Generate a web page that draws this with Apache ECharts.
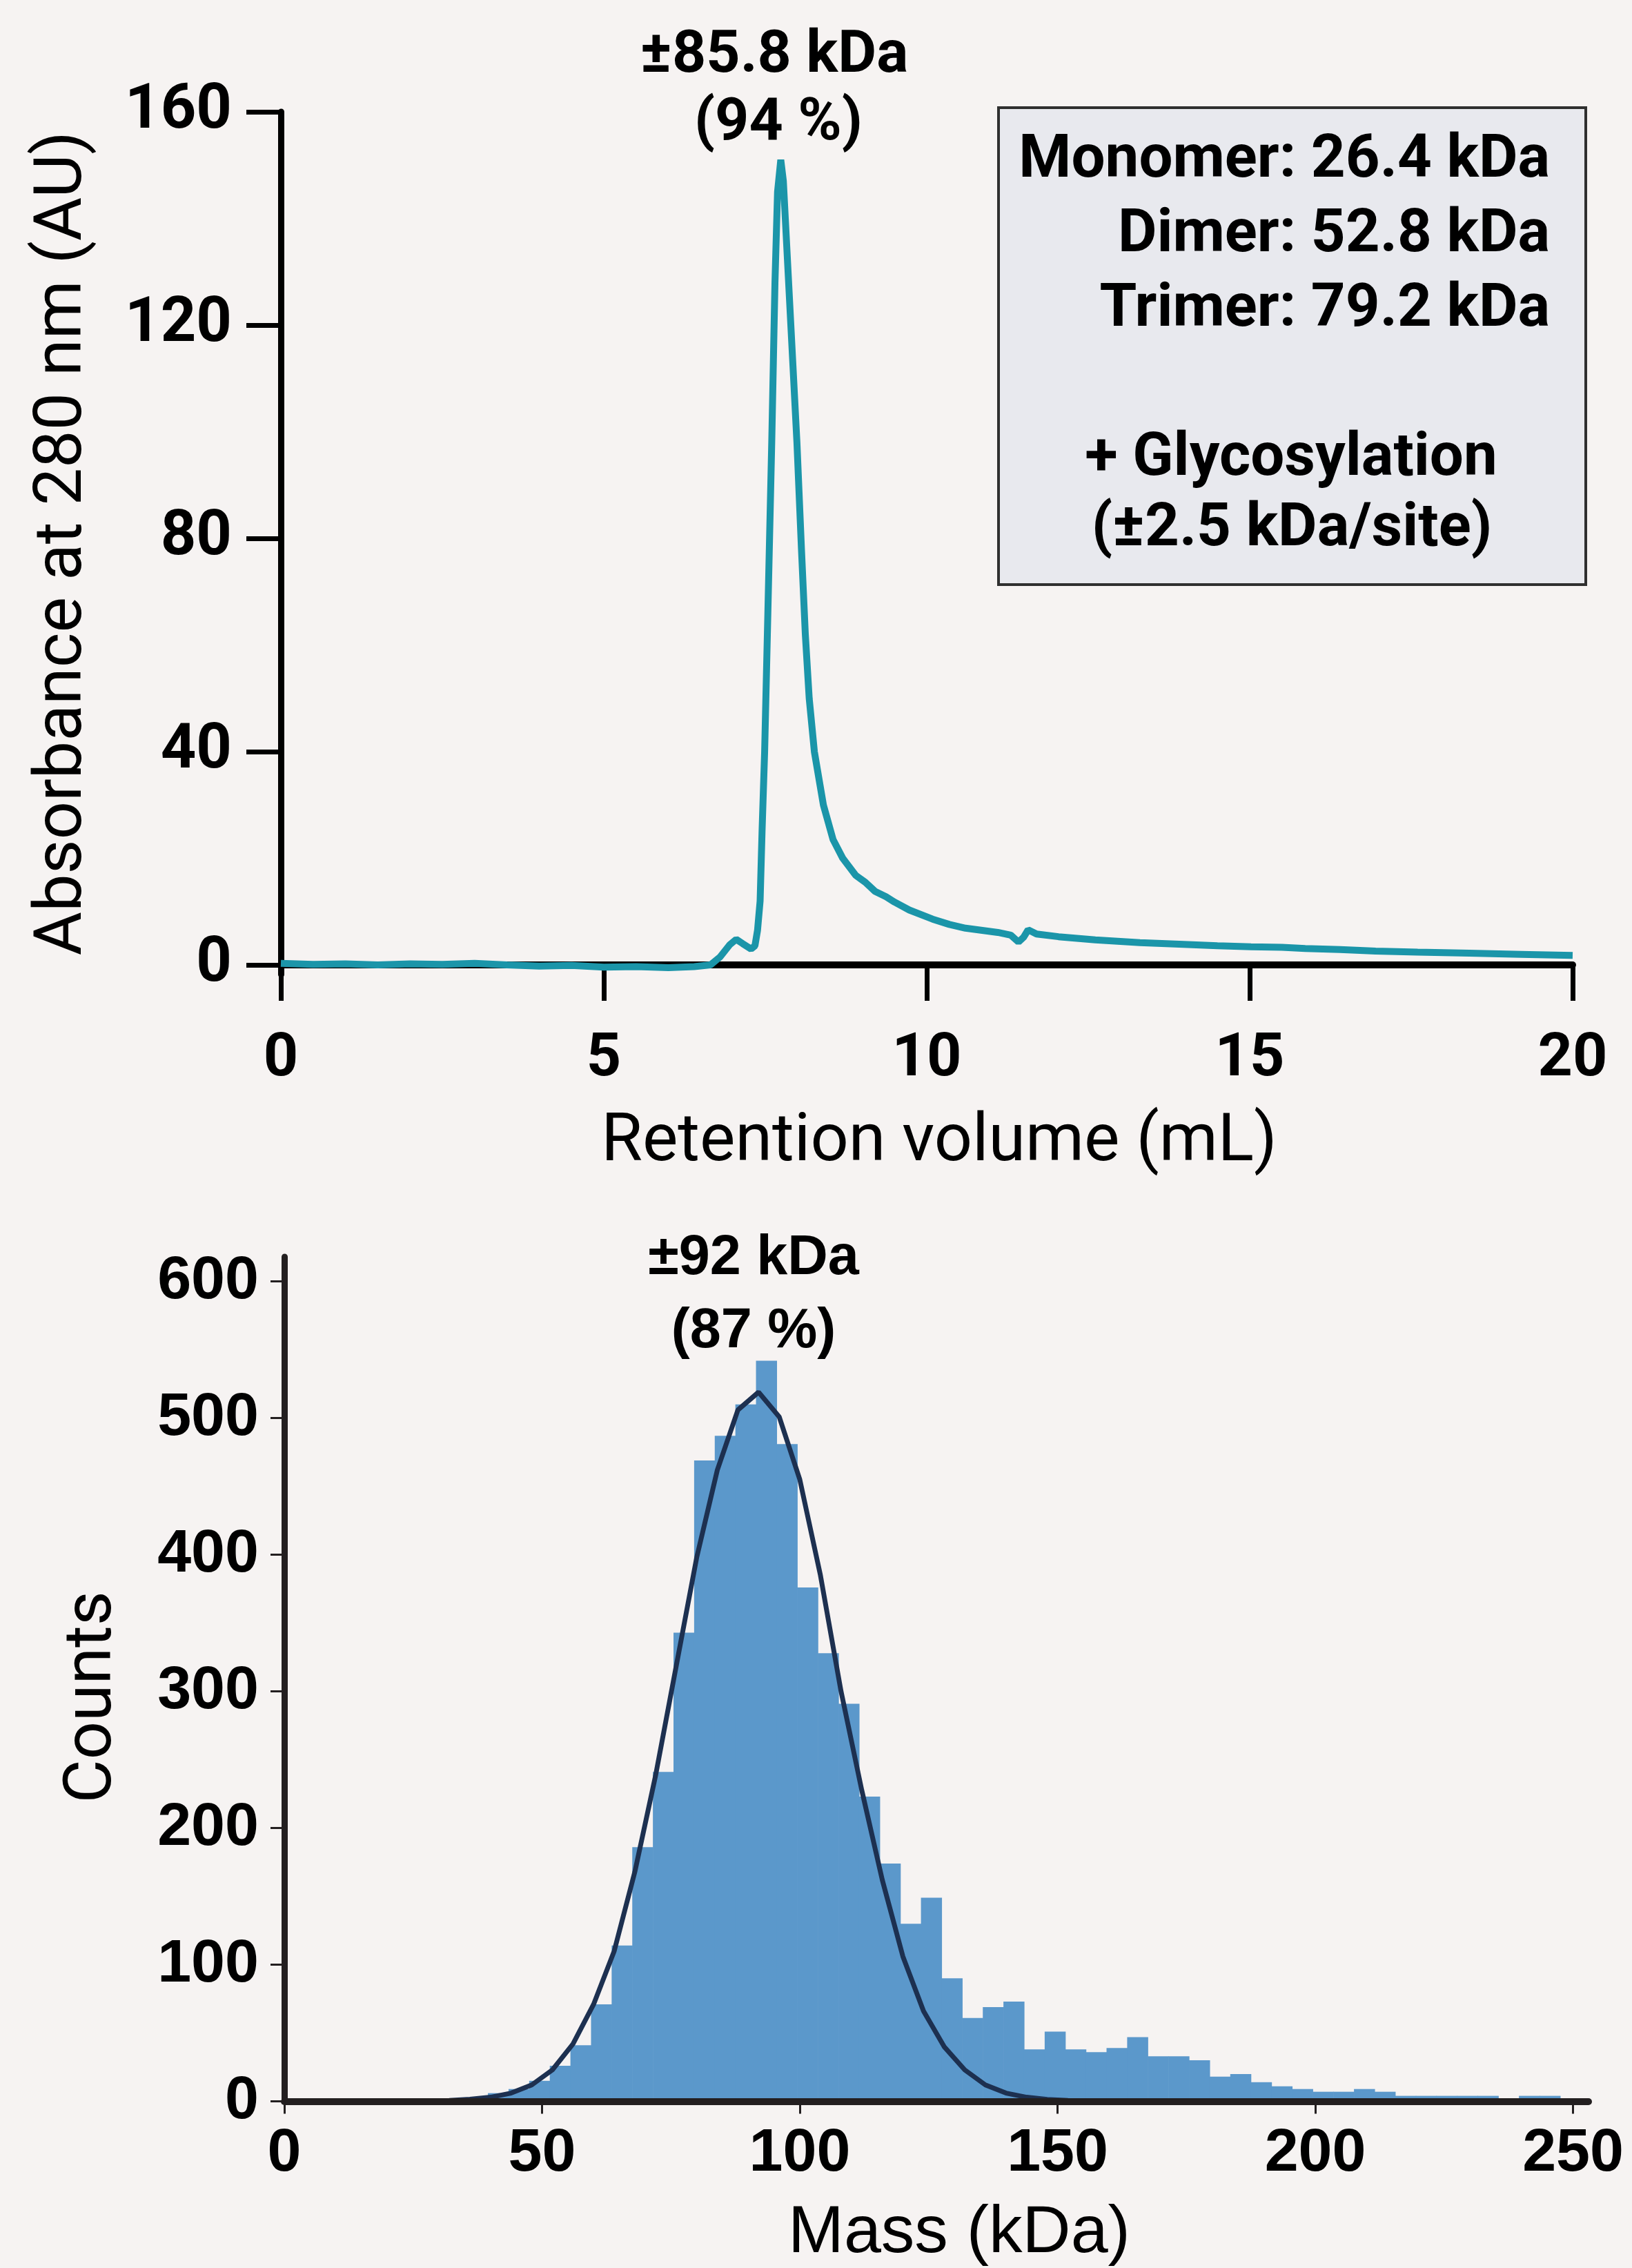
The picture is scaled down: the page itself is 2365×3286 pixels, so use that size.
<!DOCTYPE html>
<html>
<head>
<meta charset="utf-8">
<script src="https://cdn.jsdelivr.net/npm/echarts/dist/echarts.min.js"></script>
<style>
  html, body { margin: 0; padding: 0; background: #f6f3f2; }
  #container { width: 2365px; height: 3286px; }
</style>
</head>
<body>
<div id="container"></div>
<script>
// SEC trace (retention volume in mL, absorbance in AU)
let secVolume = [0, 0.5, 1.0, 1.5, 2.0, 2.5, 3.0, 3.5, 4.0, 4.5, 5.0, 5.5, 6.0, 6.4, 6.65, 6.8, 6.95, 7.05, 7.15, 7.28, 7.34, 7.38, 7.42, 7.45, 7.49, 7.54, 7.60, 7.65, 7.69, 7.74, 7.78, 7.81, 7.90, 7.99, 8.06, 8.12, 8.18, 8.26, 8.40, 8.55, 8.70, 8.90, 9.05, 9.20, 9.37, 9.50, 9.73, 10.09, 10.35, 10.6, 11.1, 11.3, 11.42, 11.5, 11.57, 11.7, 12.04, 12.61, 13.3, 13.91, 14.5, 15.02, 15.5, 15.86, 16.4, 16.95, 17.6, 18.4, 19.2, 20.0];
let secAbs = [0.3, 0.1, 0.2, 0.0, 0.2, 0.1, 0.3, 0.0, -0.2, -0.1, -0.4, -0.3, -0.5, -0.3, 0.0, 1.5, 3.8, 4.8, 4.0, 3.0, 3.6, 6.5, 12, 25, 40, 66, 98, 128, 145, 151, 147, 140, 119, 98, 78, 62, 50, 40, 30, 23.5, 20, 16.8, 15.5, 13.8, 12.8, 11.8, 10.3, 8.6, 7.6, 6.9, 6.1, 5.6, 4.3, 5.2, 6.6, 5.8, 5.3, 4.7, 4.2, 3.9, 3.6, 3.4, 3.3, 3.1, 2.9, 2.6, 2.4, 2.2, 2.0, 1.8];
let secYTicks = [0, 40, 80, 120, 160];

// mass photometry histogram (4 kDa bins)
let binStart = [35.5, 39.5, 43.5, 47.5, 51.5, 55.5, 59.5, 63.5, 67.5, 71.5, 75.5, 79.5, 83.5, 87.5, 91.5, 95.5, 99.5, 103.5, 107.5, 111.5, 115.5, 119.5, 123.5, 127.5, 131.5, 135.5, 139.5, 143.5, 147.5, 151.5, 155.5, 159.5, 163.5, 167.5, 171.5, 175.5, 179.5, 183.5, 187.5, 191.5, 195.5, 199.5, 203.5, 207.5, 211.5, 215.5, 219.5, 223.5, 227.5, 231.5, 235.5, 239.5, 243.5, 247.5];
let binCounts = [1, 6, 9, 15, 26, 41, 71, 114, 186, 241, 343, 469, 487, 510, 542, 481, 376, 328, 291, 223, 174, 130, 149, 90, 61, 69, 73, 38, 51, 38, 36, 39, 47, 33, 33, 30, 18, 20, 14, 11, 9, 7, 7, 9, 7, 4, 4, 4, 4, 4, 2, 4, 4, 1];
let binWidth = 4;

// gaussian fit curve
let fitMass = [0, 28, 32, 36, 40, 44, 48, 52, 56, 60, 64, 68, 72, 76, 80, 84, 88, 92, 96, 100, 104, 108, 112, 116, 120, 124, 128, 132, 136, 140, 144, 148, 152, 160, 250];
let fitCounts = [0, 0.2, 0.6, 1.5, 3, 6, 12, 23, 42, 71, 110, 168, 238, 318, 398, 462, 506, 519, 501, 455, 385, 300, 228, 162, 106, 66, 40, 23, 12, 6, 3, 1.4, 0.6, 0.1, 0];
let massTicks = [0, 50, 100, 150, 200, 250];
let countTicks = [0, 100, 200, 300, 400, 500, 600];

let dom = document.getElementById("container");
let myChart = echarts.init(dom, null, { renderer: 'canvas' });

const ROBOTO = 'Roboto, "Noto Sans", sans-serif';
const ARIAL = '"Liberation Sans", Arial, sans-serif';
const teal = '#1b95a9';
const barColor = '#5b98cb';
const fitColor = '#1d3050';

let secData = secVolume.map(function (v, i) { return [v, secAbs[i]]; });
let histData = binStart.map(function (s, i) { return [s, s + binWidth, binCounts[i]]; });
let fitData = fitMass.map(function (m, i) { return [m, fitCounts[i]]; });

// one rectangle per histogram bin
function renderBin(params, api) {
    let p0 = api.coord([api.value(0), api.value(2)]);
    let p1 = api.coord([api.value(1), 0]);
    return {
        type: 'rect',
        shape: { x: p0[0], y: p0[1], width: p1[0] - p0[0] + 0.6, height: p1[1] - p0[1] },
        style: { fill: barColor }
    };
}

function txt(text, x, y, size, weight, family, align) {
    return {
        type: 'text', x: x, y: y, z: 20,
        style: {
            text: text, fill: '#000', fontSize: size, fontWeight: weight,
            fontFamily: family, align: align || 'center', verticalAlign: 'middle'
        }
    };
}

let option = {
    backgroundColor: '#f6f3f2',
    animation: false,
    grid: [
        { left: 407, top: 162, width: 1872, height: 1250 },
        { left: 412, top: 1821, width: 1890, height: 1229 }
    ],
    xAxis: [{
        gridIndex: 0, type: 'value', min: 0, max: 20, interval: 5,
        name: 'Retention volume (mL)', nameLocation: 'middle', nameGap: 245,
        nameTextStyle: { fontSize: 97, fontFamily: ROBOTO, color: '#000', verticalAlign: 'middle', padding: [0, 0, 0, 36] },
        axisLine: { lineStyle: { color: '#000', width: 10 } },
        axisTick: { length: 52, lineStyle: { color: '#000', width: 7 } },
        axisLabel: { margin: 80, fontSize: 88, fontWeight: 'bold', fontFamily: ROBOTO, color: '#000' },
        splitLine: { show: false }
    }, {
        gridIndex: 1, type: 'value', min: 0, max: 253, z: 5,
        name: 'Mass (kDa)', nameLocation: 'middle', nameGap: 192,
        nameTextStyle: { fontSize: 97, fontFamily: ARIAL, color: '#000', verticalAlign: 'middle', padding: [0, 0, 0, 66] },
        axisLine: { lineStyle: { color: '#231f20', width: 10 } },
        axisTick: { length: 18, customValues: massTicks, lineStyle: { color: '#231f20', width: 3 } },
        axisLabel: { margin: 32, customValues: massTicks, fontSize: 88, fontWeight: 'bold', fontFamily: ARIAL, color: '#000' },
        splitLine: { show: false }
    }],
    yAxis: [{
        gridIndex: 0, type: 'value', min: -1.8, max: 160,
        name: 'Absorbance at 280 nm (AU)', nameLocation: 'middle', nameGap: 314,
        nameTextStyle: { fontSize: 97, fontFamily: ROBOTO, color: '#000', verticalAlign: 'middle' },
        axisLine: { show: true, lineStyle: { color: '#000', width: 9 } },
        axisTick: { show: true, length: 50, customValues: secYTicks, lineStyle: { color: '#000', width: 7 } },
        axisLabel: { margin: 71, customValues: secYTicks, fontSize: 90, fontWeight: 'bold', fontFamily: ROBOTO, color: '#000' },
        splitLine: { show: false }
    }, {
        gridIndex: 1, type: 'value', min: 0, max: 618,
        name: 'Counts', nameLocation: 'middle', nameGap: 276,
        nameTextStyle: { fontSize: 97, fontFamily: ROBOTO, color: '#000', verticalAlign: 'middle', padding: [0, 52, 0, 0] },
        axisLine: { show: true, lineStyle: { color: '#231f20', width: 9 } },
        axisTick: { show: true, length: 20, customValues: countTicks, lineStyle: { color: '#231f20', width: 3 } },
        axisLabel: { margin: 37, customValues: countTicks, fontSize: 88, fontWeight: 'bold', fontFamily: ARIAL, color: '#000' },
        splitLine: { show: false }
    }],
    series: [{
        name: 'SEC',
        type: 'line',
        xAxisIndex: 0, yAxisIndex: 0,
        data: secData,
        showSymbol: false,
        smooth: false,
        lineStyle: { color: teal, width: 10 },
        z: 3
    }, {
        name: 'Histogram',
        type: 'custom',
        xAxisIndex: 1, yAxisIndex: 1,
        renderItem: renderBin,
        encode: { x: [0, 1], y: 2 },
        data: histData,
        z: 2
    }, {
        name: 'Fit',
        type: 'line',
        xAxisIndex: 1, yAxisIndex: 1,
        data: fitData,
        showSymbol: false,
        smooth: false,
        lineStyle: { color: fitColor, width: 7 },
        z: 4
    }],
    graphic: [
        txt('±85.8 kDa', 1122, 82, 86, 'bold', ROBOTO),
        txt('(94 %)', 1128, 180, 86, 'bold', ROBOTO),
        {
            type: 'rect', z: 10,
            shape: { x: 1447, y: 156, width: 851, height: 691 },
            style: { fill: '#e8e9ee', stroke: '#2f2f2f', lineWidth: 4 }
        },
        txt('Monomer: 26.4 kDa', 2246, 234, 87, 'bold', ROBOTO, 'right'),
        txt('Dimer: 52.8 kDa', 2246, 342, 87, 'bold', ROBOTO, 'right'),
        txt('Trimer: 79.2 kDa', 2246, 450, 87, 'bold', ROBOTO, 'right'),
        txt('+ Glycosylation', 1871, 666, 87, 'bold', ROBOTO),
        txt('(±2.5 kDa/site)', 1872, 768, 87, 'bold', ROBOTO),
        txt('±92 kDa', 1092, 1824, 81, 'bold', ARIAL),
        txt('(87 %)', 1092, 1930, 81, 'bold', ARIAL)
    ]
};

myChart.setOption(option);
</script>
</body>
</html>
